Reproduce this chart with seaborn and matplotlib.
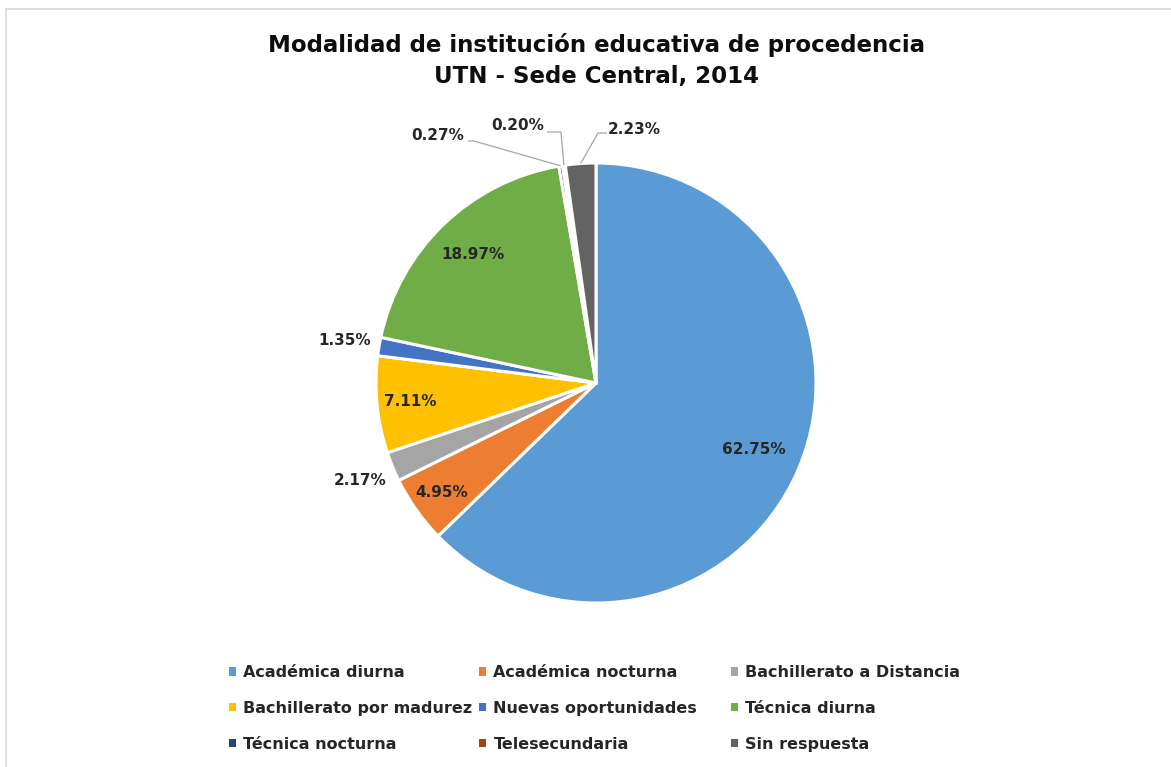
import numpy as np
import matplotlib
matplotlib.use("Agg")
import matplotlib.pyplot as plt
import seaborn as sns
from matplotlib.patches import Patch
from matplotlib.lines import Line2D

categories = ["Académica diurna", "Académica nocturna", "Bachillerato a Distancia",
              "Bachillerato por madurez", "Nuevas oportunidades", "Técnica diurna",
              "Técnica nocturna", "Telesecundaria", "Sin respuesta"]
values = [62.75, 4.95, 2.17, 7.11, 1.35, 18.97, 0.27, 0.20, 2.23]
colors = ["#5B9BD5", "#ED7D31", "#A5A5A5", "#FFC000", "#4472C4", "#70AD47",
          "#264478", "#9E480E", "#636363"]
title_lines = ["Modalidad de institución educativa de procedencia",
               "UTN - Sede Central, 2014"]

sns.set_theme(style="white")
plt.rcParams['font.family'] = ['DejaVu Sans']

W, H = 1171, 767
fig = plt.figure(figsize=(W / 100, H / 100), dpi=100)
ax = fig.add_axes([0, 0, 1, 1])

cx, cy, R = 596, H - 383, 220
palette = sns.color_palette(colors)
wedges, _ = ax.pie(values, colors=palette, startangle=90, counterclock=False,
                   center=(cx, cy), radius=R, frame=True,
                   wedgeprops=dict(edgecolor='white', linewidth=2.2))
ax.set_xlim(0, W)
ax.set_ylim(0, H)
ax.set_aspect('equal')
ax.axis('off')

def mid_angle(w):
    return np.deg2rad((w.theta1 + w.theta2) / 2)

lab_kw = dict(ha='center', va='center', fontsize=11, fontweight='bold', color='#262626')

# labels placed along each slice's mid-angle (radial factor of the radius)
radial = {0: 0.78, 1: 0.86, 2: 1.16, 3: 0.85, 4: 1.16, 5: 0.81}
for i, f in radial.items():
    a = mid_angle(wedges[i])
    ax.text(cx + f * R * np.cos(a), cy + f * R * np.sin(a), f"{values[i]:.2f}%", **lab_kw)

# leader-line labels for the thin slices at the top: text centre, line start, elbow
lead = {6: ((438, 136), (468, 141), (474, 141)),
        7: ((518, 126), (547, 132), (561, 132)),
        8: ((634, 129), (607, 133), (598, 133))}
for i, (tpos, p0, p1) in lead.items():
    a = mid_angle(wedges[i])
    end = (cx + R * np.cos(a), cy + R * np.sin(a))
    ax.text(tpos[0], H - tpos[1], f"{values[i]:.2f}%", **lab_kw)
    ax.plot([p0[0], p1[0], end[0]], [H - p0[1], H - p1[1], end[1]],
            color='#A6A6A6', lw=0.9, solid_capstyle='butt')

fig.text(cx / W, 1 - 45 / H, title_lines[0], ha='center', va='center',
         fontsize=16.5, fontweight='bold', color='#0d0d0d')
fig.text(cx / W, 1 - 76 / H, title_lines[1], ha='center', va='center',
         fontsize=16.5, fontweight='bold', color='#0d0d0d')

# legend: three columns, row-wise order
col_x = [229, 479, 731]
for c in range(3):
    idx = [c, c + 3, c + 6]
    handles = [Patch(facecolor=palette[i], edgecolor='none') for i in idx]
    labels = [categories[i] for i in idx]
    fig.legend(handles, labels, loc='upper left',
               bbox_to_anchor=(col_x[c] / W, 1 - 665 / H), frameon=False,
               prop=dict(size=11.5, weight='bold'), labelcolor='#262626',
               handlelength=0.45, handleheight=0.45, handletextpad=0.45,
               labelspacing=1.30, borderpad=0, borderaxespad=0)

# thin border lines (top and left)
fig.add_artist(Line2D([6 / W, 1], [1 - 9 / H, 1 - 9 / H], color='#d9d9d9', lw=1.2))
fig.add_artist(Line2D([6 / W, 6 / W], [0, 1 - 9 / H], color='#d9d9d9', lw=1.2))

fig.savefig("out.png", dpi=100, facecolor='white')
